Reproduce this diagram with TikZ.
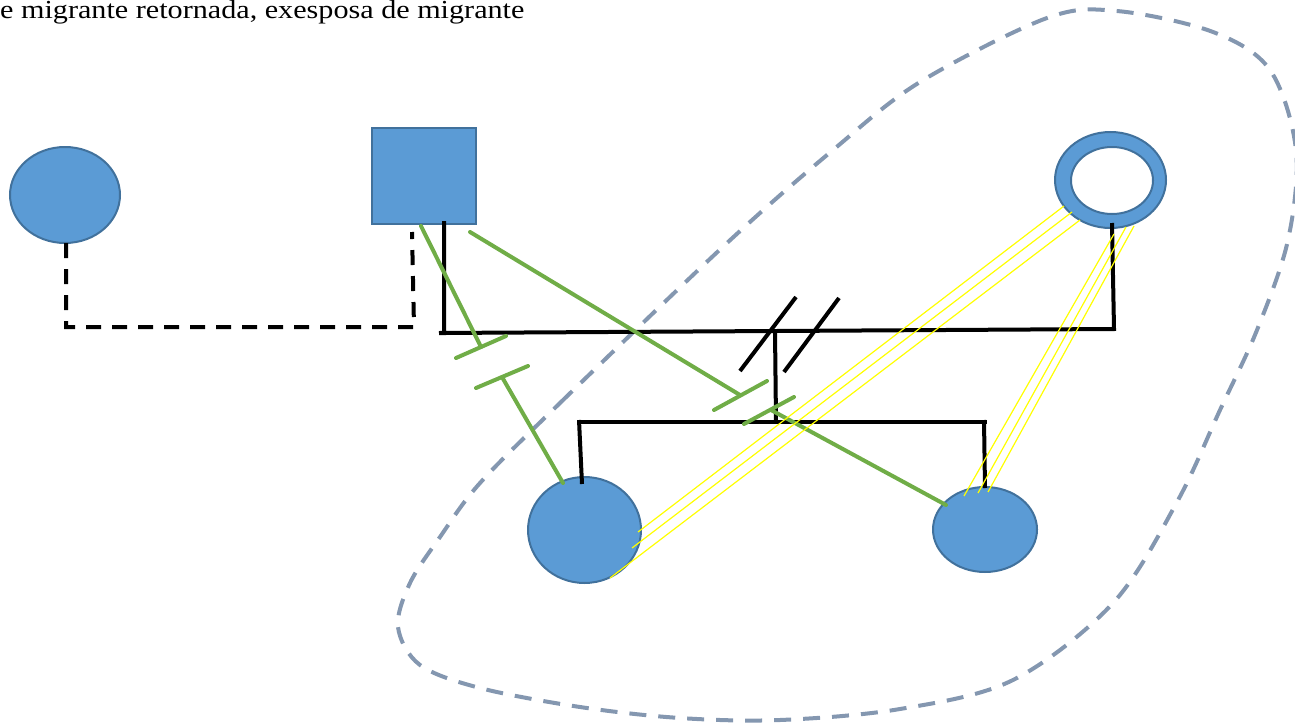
\documentclass[tikz,border=0pt]{standalone}
\usepackage{fontspec}
\setmainfont{Liberation Serif}
\usetikzlibrary{shapes.geometric}
\definecolor{pfill}{HTML}{5B9BD5}
\definecolor{pdraw}{HTML}{41719C}
\definecolor{emgreen}{HTML}{70AD47}
\definecolor{hhline}{HTML}{8497B0}
\definecolor{yel}{HTML}{FFFF00}
\tikzset{
  person/.style={ellipse, fill=pfill, draw=pdraw, line width=2pt, inner sep=0pt},
  male/.style={rectangle, fill=pfill, draw=pdraw, line width=2pt, inner sep=0pt},
  famline/.style={line width=4pt, black},
  sepline/.style={line width=4pt, black, dash pattern=on 15pt off 11pt},
  conflict/.style={line width=4pt, emgreen, line cap=round},
  closeline/.style={line width=1.2pt, yel},
  household/.style={line width=4pt, hhline, dash pattern=on 17pt off 12pt},
}
\begin{document}
\begin{tikzpicture}[x=1pt,y=-1pt]
\useasboundingbox (0,0) rectangle (1295,725);
% household boundary
\draw[household] plot[smooth cycle, tension=0.55] coordinates {
 (480,483) (560,403) (727,243) (833,150) (920,82) (1047,18) (1117,11)
 (1213,32) (1270,70) (1296,150) (1288,240) (1257,330) (1220,410) (1177,502)
 (1113,603) (1013,680) (900,709) (780,720) (680,718) (580,707) (480,688)
 (420,665) (398,627) (410,583) (440,537)};
% title text
\node[anchor=base west, inner sep=0pt] (title) at (0,18.5)
  {\scalebox{1.16}[1]{\fontsize{26}{30}\selectfont e migrante retornada, exesposa de migrante}};
% persons
\node[person, minimum width=110pt, minimum height=96pt] (gm) at (65,195) {};
\node[male, minimum width=104pt, minimum height=96pt] (gf) at (424,176) {};
\node[person, minimum width=113pt, minimum height=106pt] (d1) at (584.5,530) {};
\node[person, minimum width=104pt, minimum height=85pt] (d2) at (985,529.5) {};
\fill[pfill, even odd rule] (1110.5,180) ellipse [x radius=55.5, y radius=48]
  (1112,180.5) ellipse [x radius=41, y radius=33.5];
\draw[pdraw, line width=2pt] (1110.5,180) ellipse [x radius=55.5, y radius=48]
  (1112,180.5) ellipse [x radius=41, y radius=33.5];
\coordinate (ring) at (1110.5,180);
% coordinates
\coordinate (gmb) at (66,243);
\coordinate (gfb) at (412,232);
\coordinate (gfc) at (444,221);
\coordinate (mL) at (439,333);
\coordinate (mR) at (1114,329);
\coordinate (ringb) at (1112,223);
\coordinate (mid) at (775,331);
\coordinate (sib) at (776,422);
\coordinate (sL) at (578,422);
\coordinate (sR) at (987,422);
\coordinate (d1t) at (582,484);
\coordinate (d2t) at (985,488);
% separated union (dashed)
\draw[sepline] (gmb) -- (66,327) -- (414,327) -- (gfb);
% marriage line
\draw[famline, line join=miter] (gfc) -- (444,333) -- (mL) -- (mR) -- (ringb);
\draw[famline] (mid) -- (sib);
\draw[famline] (sL) -- (sR);
\draw[famline] (579,420) -- (d1t);
\draw[famline] (984,420) -- (d2t);
% divorce slashes
\draw[famline] (740,371) -- (796,297);
\draw[famline] (784,372) -- (839,298);
% conflict / cut-off lines (green)
\coordinate (g1a) at (421,226);
\coordinate (g1t) at (481,347);
\coordinate (g1u) at (502,377);
\coordinate (g1b) at (563,483);
\draw[conflict] (g1a) -- (g1t);
\draw[conflict] (456,358) -- (506,336);
\draw[conflict] (476,388) -- (528,366);
\draw[conflict] (g1u) -- (g1b);
\coordinate (g2a) at (470,232);
\coordinate (g2t) at (740,395);
\coordinate (g2u) at (771,410);
\coordinate (g2b) at (946,505);
\draw[conflict] (g2a) -- (g2t);
\draw[conflict] (714,410) -- (767,381);
\draw[conflict] (744,424) -- (794,397);
\draw[conflict] (g2u) -- (g2b);
% close relationships (yellow triple lines)
\draw[closeline] (1064,206) -- (638,532);
\draw[closeline] (1072,212) -- (632,548);
\draw[closeline] (1080,220) -- (610,578);
\draw[closeline] (1114,234) -- (964,496);
\draw[closeline] (1126,227) -- (978,493);
\draw[closeline] (1134,226) -- (988,492);
\end{tikzpicture}
\end{document}
